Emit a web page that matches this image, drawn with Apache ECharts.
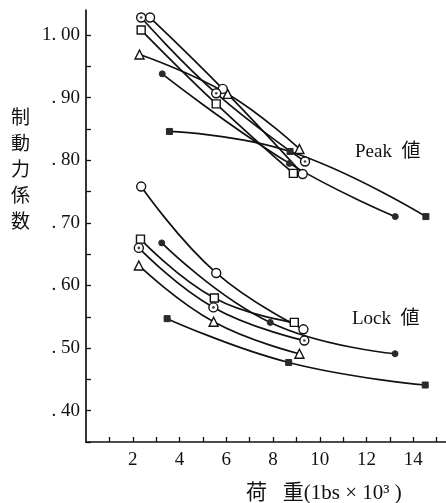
<!DOCTYPE html>
<html><head><meta charset="utf-8">
<script src="https://cdn.jsdelivr.net/npm/echarts@6/dist/echarts.min.js"></script>
<style>html,body{margin:0;padding:0;background:#fff}#c{width:446px;height:503px}</style>
</head><body><div id="c"></div>
<script>
// Load (1000 lbs) and braking coefficient
// Peak values
const peakDotCircle = [[2.36,1.028],[5.57,0.907],[9.37,0.798]];
const peakCircle    = [[2.74,1.028],[5.85,0.914],[9.27,0.778]];
const peakSquare    = [[2.36,1.008],[5.57,0.890],[8.87,0.779]];
const peakTriangle  = [[2.29,0.969],[6.06,0.906],[9.13,0.818]];
const peakFilledDot = [[3.26,0.938],[8.70,0.795],[13.23,0.710]];
const peakFilledSq  = [[3.57,0.846],[8.73,0.814],[14.54,0.710]];
// Lock values
const lockDotCircle = [[2.26,0.660],[5.45,0.565],[9.34,0.512]];
const lockCircle    = [[2.36,0.758],[5.57,0.620],[9.30,0.530]];
const lockSquare    = [[2.33,0.674],[5.49,0.580],[8.91,0.541]];
const lockTriangle  = [[2.26,0.632],[5.46,0.542],[9.13,0.491]];
const lockFilledDot = [[3.24,0.668],[7.88,0.541],[13.22,0.491]];
const lockFilledSq  = [[3.47,0.547],[8.67,0.477],[14.51,0.441]];
// Axis ticks and labels
const xTickValues  = [1,2,3,4,5,6,7,8,9,10,11,12,13,14,15];
const xLabelValues = [2,4,6,8,10,12,14];
const xTickLabels  = ['2','4','6','8','10','12','14'];
const yTickValues  = [0.35,0.40,0.45,0.50,0.55,0.60,0.65,0.70,0.75,0.80,0.85,0.90,0.95,1.00];
const yLabelValues = [0.40,0.50,0.60,0.70,0.80,0.90,1.00];
const yTickLabels  = ['. 40','. 50','. 60','. 70','. 80','. 90','1. 00'];

const SERIF = '"Liberation Serif","DejaVu Serif",serif';
const INK = '#111';

function lineSeries(data, symbol, size, filled) {
  return {
    type: 'line', data: data, smooth: 0.45, symbol: symbol, symbolSize: size,
    showSymbol: true, z: 3,
    lineStyle: { color: INK, width: 1.7 },
    itemStyle: filled ? { color: '#2a2a2a', borderColor: '#2a2a2a', borderWidth: 1 }
                      : { color: '#fff', borderColor: INK, borderWidth: 1.4 },
    emphasis: { disabled: true }, silent: true
  };
}
function dotSeries(data) {
  return { type: 'scatter', data: data, symbol: 'circle', symbolSize: 2.6, z: 5,
    itemStyle: { color: INK }, silent: true };
}

const chart = echarts.init(document.getElementById('c'), null, { renderer: 'canvas' });
chart.setOption({
  animation: false,
  backgroundColor: '#fff',
  grid: { left: 86, right: 0, top: 10, bottom: 61, containLabel: false, outerBoundsMode: 'none' },
  xAxis: {
    type: 'value', min: 0, max: 15.4,
    axisLine: { show: true, lineStyle: { color: INK, width: 1.7 } },
    axisTick: { show: true, inside: true, length: 5, customValues: xTickValues, lineStyle: { color: INK, width: 1.3 } },
    axisLabel: { show: true, margin: 9, customValues: xLabelValues, color: INK,
      fontFamily: SERIF, fontSize: 19,
      formatter: function (v) { const i = xLabelValues.indexOf(Math.round(v)); return i >= 0 ? xTickLabels[i] : ''; } },
    splitLine: { show: false }
  },
  yAxis: {
    type: 'value', min: 0.35, max: 1.04,
    axisLine: { show: true, lineStyle: { color: INK, width: 1.7 } },
    axisTick: { show: true, inside: true, length: 5, customValues: yTickValues, lineStyle: { color: INK, width: 1.3 } },
    axisLabel: { show: true, margin: 6, customValues: yLabelValues, color: INK,
      fontFamily: SERIF, fontSize: 19,
      formatter: function (v) { const i = yLabelValues.findIndex(function (t) { return Math.abs(t - v) < 1e-6; }); return i >= 0 ? yTickLabels[i] : ''; } },
    splitLine: { show: false }
  },
  series: [
    lineSeries(peakFilledSq, 'rect', 6, true),
    lineSeries(peakFilledDot, 'circle', 6, true),
    lineSeries(peakTriangle, 'triangle', 9, false),
    lineSeries(peakSquare, 'rect', 8, false),
    lineSeries(peakCircle, 'circle', 9, false),
    lineSeries(peakDotCircle, 'circle', 9, false),
    dotSeries(peakDotCircle),
    lineSeries(lockFilledSq, 'rect', 6, true),
    lineSeries(lockFilledDot, 'circle', 6, true),
    lineSeries(lockTriangle, 'triangle', 9, false),
    lineSeries(lockSquare, 'rect', 8, false),
    lineSeries(lockCircle, 'circle', 9, false),
    lineSeries(lockDotCircle, 'circle', 9, false),
    dotSeries(lockDotCircle)
  ],
  graphic: [
    { type: 'text', left: 11, top: 104, silent: true,
      style: { text: '制\n動\n力\n係\n数', fill: INK, font: '19px "Noto Sans CJK JP"', lineHeight: 26 } },
    { type: 'text', x: 355, y: 152, silent: true,
      style: { text: 'Peak  値', fill: INK, font: '19px ' + SERIF + ',"Noto Sans CJK JP"', textVerticalAlign: 'middle' } },
    { type: 'text', x: 352, y: 319, silent: true,
      style: { text: 'Lock  値', fill: INK, font: '19px ' + SERIF + ',"Noto Sans CJK JP"', textVerticalAlign: 'middle' } },
    { type: 'text', x: 246, y: 493, silent: true,
      style: { text: '荷   重(1bs × 10³ )', fill: INK, font: '21px ' + SERIF + ',"Noto Sans CJK JP"', textVerticalAlign: 'middle' } }
  ]
});
</script></body></html>
